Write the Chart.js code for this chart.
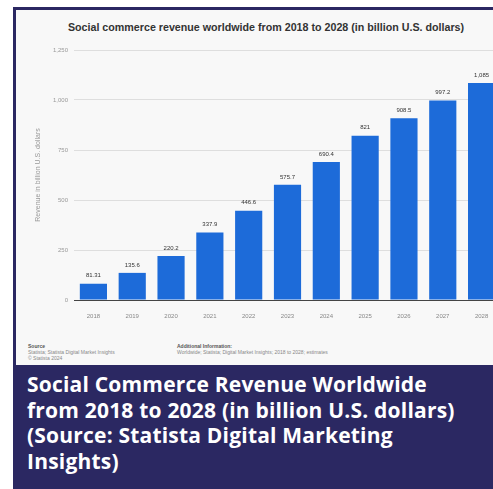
<!DOCTYPE html>
<html>
<head>
<meta charset="utf-8">
<script src="https://cdn.jsdelivr.net/npm/chart.js@4.4.1/dist/chart.umd.min.js"></script>
<style>
  body { margin: 0; background: #fff; width: 493px; height: 489px; overflow: hidden; position: relative; font-family: "Liberation Sans", Arial, sans-serif; }
  #frame { position: absolute; left: 13px; top: 7px; width: 500px; height: 360px; border-left: 3px solid #2b2862; border-top: 3px solid #2b2862; background: #f8f8f8; overflow: hidden; }
  #chart-title { position: absolute; left: 0; top: 11px; width: 500px; text-align: center; font-size: 10.7px; font-weight: bold; color: #333; }
  #chart-box { position: absolute; left: 0; top: 0; width: 485px; height: 320px; }
  .foot { position: absolute; font-size: 5px; line-height: 6px; color: #888; }
  .foot b { color: #555; }
  #caption { position: absolute; left: 13px; top: 365px; width: 480px; height: 124px; background: #2b2862; color: #fff; font-family: "Open Sans", sans-serif; font-weight: bold; font-size: 21px; letter-spacing: 0.2px; line-height: 25.5px; padding: 7px 0 0 14px; box-sizing: border-box; white-space: nowrap; }
</style>
</head>
<body>
<div id="frame">
  <div id="chart-title">Social commerce revenue worldwide from 2018 to 2028 (in billion U.S. dollars)</div>
  <div id="chart-box"><canvas id="chart" width="485" height="320"></canvas></div>
  <div class="foot" style="left:12px; top:333px;"><b>Source</b><br>Statista; Statista Digital Market Insights<br>© Statista 2024</div>
  <div class="foot" style="left:161px; top:333px;"><b>Additional Information:</b><br>Worldwide; Statista; Digital Market Insights; 2018 to 2028; estimates</div>
</div>
<div id="caption">Social Commerce Revenue Worldwide<br>from 2018 to 2028 (in billion U.S. dollars)<br>(Source: Statista Digital Marketing<br>Insights)</div>

<script>
var years = ["2018", "2019", "2020", "2021", "2022", "2023", "2024", "2025", "2026", "2027", "2028"];
var revenue = [81.31, 135.6, 220.2, 337.9, 446.6, 575.7, 690.4, 821, 908.5, 997.2, 1085];
var yTicks = [0, 250, 500, 750, 1000, 1250];

// value labels on top of each bar
var barLabels = {
    id: "barLabels",
    afterDatasetsDraw: function (chart) {
        var ctx = chart.ctx;
        var meta = chart.getDatasetMeta(0);
        ctx.save();
        ctx.font = "6px 'Liberation Sans', Arial, sans-serif";
        ctx.fillStyle = "#333";
        ctx.textAlign = "center";
        ctx.textBaseline = "bottom";
        meta.data.forEach(function (bar, i) {
            ctx.fillText(revenue[i].toLocaleString("en-US"), bar.x, bar.y - 5);
        });
        ctx.restore();
    }
};

var ctx = document.getElementById("chart").getContext("2d");
new Chart(ctx, {
    type: "bar",
    data: {
        labels: years,
        datasets: [{
            data: revenue,
            backgroundColor: "#1d6bd9",
            categoryPercentage: 0.7,
            barPercentage: 1
        }]
    },
    options: {
        responsive: false,
        animation: false,
        layout: { padding: { top: 40, right: 0, left: 16, bottom: 0 } },
        plugins: { legend: { display: false }, tooltip: { enabled: false } },
        scales: {
            x: {
                grid: { display: false },
                border: { color: "#444", width: 1 },
                ticks: { color: "#888", font: { size: 6 }, padding: 5 },
                afterFit: function (scale) { scale.height = 30; }
            },
            y: {
                min: 0,
                max: 1250,
                afterBuildTicks: function (scale) {
                    scale.ticks = yTicks.map(function (v) { return { value: v }; });
                },
                ticks: {
                    color: "#999",
                    font: { size: 6 },
                    padding: 6,
                    callback: function (v) { return v.toLocaleString("en-US"); }
                },
                grid: { color: "#dedede", drawTicks: false },
                border: { display: false },
                title: { display: true, text: "Revenue in billion U.S. dollars", color: "#999", font: { size: 7 }, padding: 2 },
                afterFit: function (scale) { scale.width = 42; }
            }
        }
    },
    plugins: [barLabels]
});
</script>
</body>
</html>
